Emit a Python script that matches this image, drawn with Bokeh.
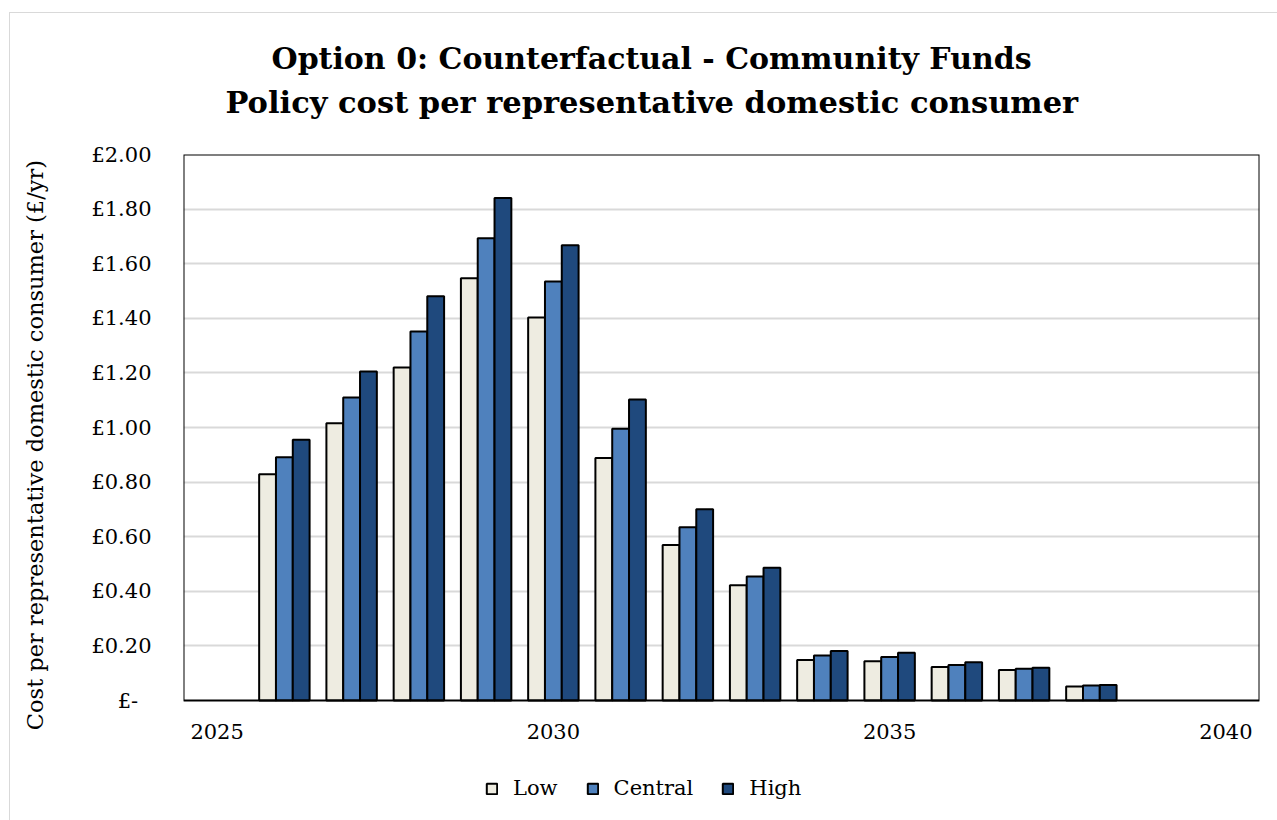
from bokeh.plotting import figure
from bokeh.models import (Range1d, FixedTicker, CustomJSTickFormatter, Legend,
                          LegendItem, Title, ColumnDataSource, BoxAnnotation, LinearAxis)
from bokeh.transform import dodge
from bokeh.embed import file_html
from bokeh.resources import INLINE

years = [2026, 2027, 2028, 2029, 2030, 2031, 2032, 2033, 2034, 2035, 2036, 2037, 2038]
low = [0.829, 1.016, 1.220, 1.547, 1.403, 0.888, 0.570, 0.422, 0.148, 0.144, 0.123, 0.112, 0.051]
central = [0.891, 1.110, 1.352, 1.693, 1.535, 0.995, 0.635, 0.454, 0.165, 0.159, 0.130, 0.116, 0.055]
high = [0.955, 1.205, 1.481, 1.841, 1.668, 1.103, 0.701, 0.486, 0.181, 0.175, 0.140, 0.120, 0.057]
series_names = ["Low", "Central", "High"]
x_ticks = [2025, 2030, 2035, 2040]
y_ticks = [0.0, 0.2, 0.4, 0.6, 0.8, 1.0, 1.2, 1.4, 1.6, 1.8, 2.0]
x_min, x_max = 2024.5, 2040.5
y_min, y_max = 0.0, 2.0

title_1 = "Option 0: Counterfactual - Community Funds"
title_2 = "Policy cost per representative domestic consumer"
y_label = "Cost per representative domestic consumer (£/yr)"

colors = ["#EEECE1", "#4F81BD", "#1F497D"]
FONT = "DejaVu Serif"

src = ColumnDataSource(dict(year=years, Low=low, Central=central, High=high))

OX, OY = 9, 12            # chart-area origin inside the window
PLOT_TOP, PLOT_BOTTOM = 153, 699
px_per_unit = (PLOT_BOTTOM - PLOT_TOP) / (y_max - y_min)
extra = (820 - PLOT_BOTTOM) / px_per_unit   # room under the axis for labels and legend

p = figure(output_backend="svg", toolbar_location=None,
           x_range=Range1d(x_min, x_max), y_range=Range1d(y_min - extra, y_max),
           x_axis_location=None, title=None)
p.frame_width = 1258 - 182
p.frame_height = 820 - PLOT_TOP
p.min_border_left = 182 - OX
p.min_border_right = 1277 - 1258
p.min_border_top = PLOT_TOP - OY
p.min_border_bottom = 0
p.margin = (OY, 0, 0, OX)
p.styles = {"border-left": "1px solid #d9d9d9", "border-top": "1px solid #d9d9d9"}

p.outline_line_color = None
p.background_fill_color = "white"
p.border_fill_color = "white"

renderers = []
for name, off, col in zip(series_names, [-0.25, 0.0, 0.25], colors):
    r = p.vbar(x=dodge("year", off), top=name, width=0.25, source=src,
               fill_color=col, line_color="black", line_width=2)
    renderers.append(r)

# plot-area border
p.add_layout(BoxAnnotation(left=x_min, right=x_max, bottom=y_min, top=y_max,
                           fill_alpha=0, line_color="black", line_alpha=1.0,
                           line_width=2, level="overlay"))

# x axis pinned at y = 0
xa = LinearAxis(fixed_location=y_min)
xa.ticker = FixedTicker(ticks=x_ticks)
xa.axis_line_color = None
xa.major_tick_line_color = None
xa.minor_tick_line_color = None
xa.major_tick_out = 0
xa.major_tick_in = 0
xa.major_label_text_font = FONT
xa.major_label_text_font_size = "21px"
xa.major_label_text_color = "black"
xa.major_label_standoff = 23
p.add_layout(xa, "below")

ya = p.yaxis[0]
ya.ticker = FixedTicker(ticks=y_ticks)
ya.formatter = CustomJSTickFormatter(code="""
    if (Math.abs(tick) < 1e-9) { return "£-\u00a0\u00a0"; }
    return "£" + tick.toFixed(2);
""")
ya.axis_line_color = None
ya.major_tick_line_color = None
ya.minor_tick_line_color = None
ya.major_tick_out = 0
ya.major_tick_in = 0
ya.major_label_text_font = FONT
ya.major_label_text_font_size = "21px"
ya.major_label_text_color = "black"
ya.major_label_standoff = 32
ya.axis_label = "\u00a0" * 12 + y_label
ya.axis_label_text_font = FONT
ya.axis_label_text_font_style = "normal"
ya.axis_label_text_font_size = "22.5px"
ya.axis_label_text_color = "black"
ya.axis_label_standoff = 40

p.xgrid.grid_line_color = None
p.ygrid.ticker = FixedTicker(ticks=y_ticks[1:-1])
p.ygrid.grid_line_color = "#d9d9d9"
p.ygrid.grid_line_width = 2

# titles (two lines)
t2 = Title(text=title_2, align="left", text_font=FONT, text_font_size="30.5px",
           text_font_style="bold", text_color="black", offset=42, standoff=69)
t1 = Title(text=title_1, align="left", text_font=FONT, text_font_size="30px",
           text_font_style="bold", text_color="black", offset=88, standoff=-56)
p.add_layout(t2, "above")
p.add_layout(t1, "above")

legend = Legend(items=[LegendItem(label=n, renderers=[r]) for n, r in zip(series_names, renderers)],
                orientation="horizontal", location=(302, 21),
                label_text_font=FONT, label_text_font_size="21px", label_text_color="black",
                glyph_width=13, glyph_height=13, label_standoff=15, spacing=28,
                border_line_color=None, background_fill_alpha=0, margin=0, padding=4)
p.add_layout(legend, "center")

open("out.html", "w").write(file_html(p, INLINE))
